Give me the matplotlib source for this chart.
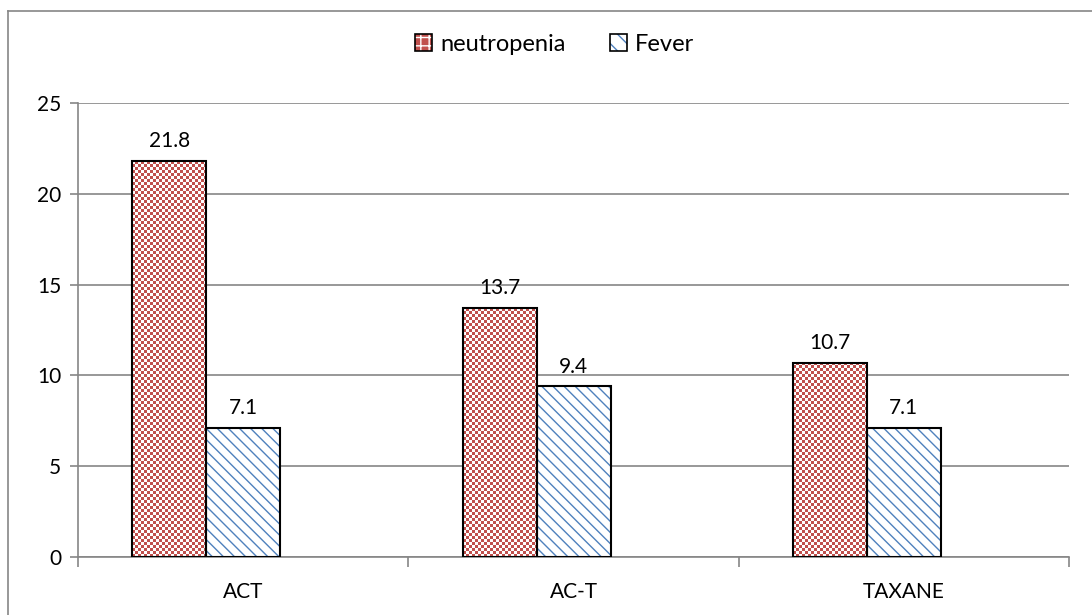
import numpy as np
import matplotlib.pyplot as plt
from matplotlib.lines import Line2D
from matplotlib.patches import Patch

categories = ['ACT', 'AC-T', 'TAXANE']
neutropenia = [21.8, 13.7, 10.7]
fever = [7.1, 9.4, 7.1]

red = '#c0504d'
blue = '#4f81bd'
grid_col = '#868686'

plt.rcParams['font.family'] = ['Lato', 'DejaVu Sans']
plt.rcParams['hatch.linewidth'] = 1.0

fig = plt.figure(figsize=(10.92, 6.15), dpi=100)
ax = fig.add_axes([0.0714, 0.0943, 0.9076, 0.7382])

x = np.arange(len(categories))
w = 0.224

ax.set_xlim(-0.5, 2.5)
ax.set_ylim(0, 25)

# red bars: checkerboard fill clipped to each bar
bars_n = ax.bar(x - w, neutropenia, w, facecolor='none', edgecolor='black', linewidth=1.5, zorder=4)
fig.canvas.draw()
cmap = plt.matplotlib.colors.ListedColormap(['white', red])
for b in bars_n:
    x0, y0 = b.get_x(), b.get_y()
    bw, bh = b.get_width(), b.get_height()
    p0 = ax.transData.transform((x0, y0))
    p1 = ax.transData.transform((x0 + bw, y0 + bh))
    nc = max(1, int(round((p1[0] - p0[0]) / 3.0)))
    nr = max(1, int(round((p1[1] - p0[1]) / 3.0)))
    board = (np.add.outer(np.arange(nr), np.arange(nc)) % 2).astype(float)
    im = ax.imshow(board, cmap=cmap, extent=(x0, x0 + bw, y0, y0 + bh), aspect='auto',
                   interpolation='nearest', zorder=3)
    im.set_clip_path(b)

# blue bars: diagonal hatch
ax.bar(x, fever, w, facecolor='white', edgecolor=blue, hatch='\\\\\\', linewidth=0, zorder=3)
ax.bar(x, fever, w, facecolor='none', edgecolor='black', linewidth=1.5, zorder=4)

for i in range(len(categories)):
    ax.annotate(f'{neutropenia[i]}', (x[i] - w, neutropenia[i]), xytext=(0, 7),
                textcoords='offset points', ha='center', va='bottom', fontsize=15)
    ax.annotate(f'{fever[i]}', (x[i], fever[i]), xytext=(0, 7),
                textcoords='offset points', ha='center', va='bottom', fontsize=15)

ax.set_yticks(range(0, 26, 5))
ax.yaxis.grid(True, color=grid_col, linewidth=1.2)
ax.set_axisbelow(True)
ax.set_xticks(x)
ax.set_xticklabels(categories, fontsize=15)
ax.set_xticks(np.arange(-0.5, 3, 1), minor=True)
ax.tick_params(axis='x', which='major', length=0, pad=18)
ax.tick_params(axis='x', which='minor', length=7, color=grid_col, width=1.2)
ax.tick_params(axis='y', length=6, color=grid_col, width=1.2, labelsize=15, pad=6)
for s in ['top', 'right']:
    ax.spines[s].set_visible(False)
for s in ['left', 'bottom']:
    ax.spines[s].set_color(grid_col)
    ax.spines[s].set_linewidth(1.2)

h_red = (Patch(facecolor=red, edgecolor='white', hatch='++', linewidth=0),
         Patch(facecolor='none', edgecolor='black', linewidth=1.2))
h_blue = (Patch(facecolor='white', edgecolor=blue, hatch='\\\\', linewidth=0),
          Patch(facecolor='none', edgecolor='black', linewidth=1.2))
fig.legend([h_red, h_blue], ['neutropenia', 'Fever'], loc='center', bbox_to_anchor=(0.508, 0.928),
           ncol=2, frameon=False, fontsize=17, handlelength=0.7, handleheight=0.7,
           handletextpad=0.35, columnspacing=1.9)

# outer chart border (left and top visible)
fig.add_artist(Line2D([8/1092, 8/1092], [0, 1 - 11/615], color=grid_col, linewidth=1.2, transform=fig.transFigure))
fig.add_artist(Line2D([8/1092, 1], [1 - 11/615, 1 - 11/615], color=grid_col, linewidth=1.2, transform=fig.transFigure))

fig.savefig('out.png', dpi=100)
